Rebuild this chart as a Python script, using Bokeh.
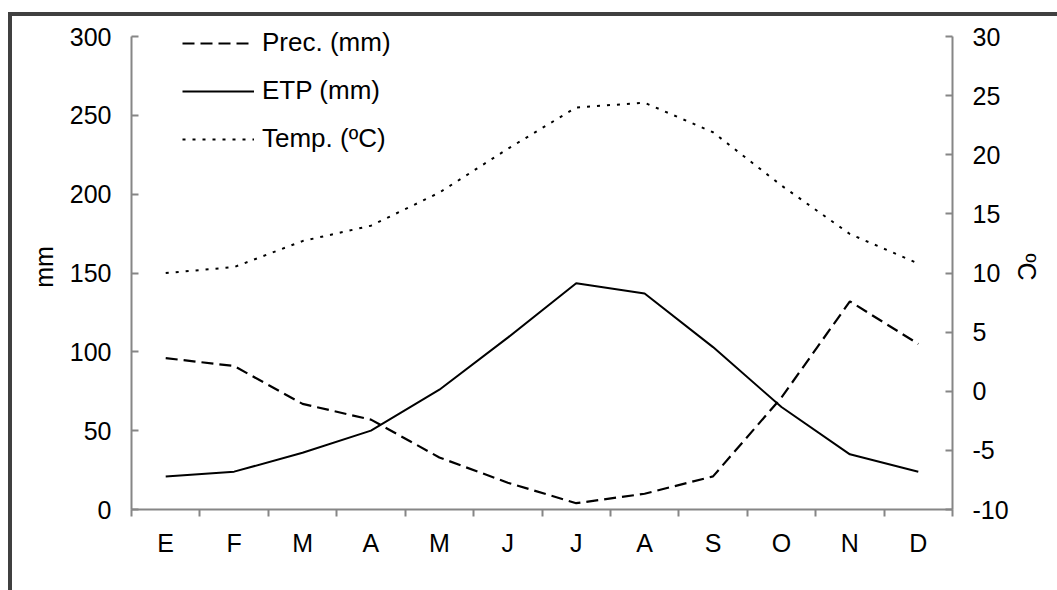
from bokeh.plotting import figure
from bokeh.models import Range1d, LinearAxis, FixedTicker, Legend, LegendItem
from bokeh.embed import file_html
from bokeh.resources import INLINE

months = ["E", "F", "M", "A", "M", "J", "J", "A", "S", "O", "N", "D"]
prec = [96, 91, 67, 57, 33, 17, 4, 10, 21, 71, 132, 105]
etp = [21, 24, 36, 50, 76, 109, 143.5, 137, 103, 65, 35, 24]
temp = [10.0, 10.5, 12.7, 14.0, 16.8, 20.5, 24.0, 24.4, 21.9, 17.4, 13.3, 10.8]
mm_ticks = [0, 50, 100, 150, 200, 250, 300]
c_ticks = [-10, -5, 0, 5, 10, 15, 20, 25, 30]

FONT = "Liberation Sans"
FS = "25px"
AX = "#868686"

AXIS_H = 473   # pixel height of the axes
EXT = 12       # extra frame room above the axes (for the legend)

xs = [i + 0.5 for i in range(len(months))]
mm_top = mm_ticks[-1] + EXT * (mm_ticks[-1] - mm_ticks[0]) / AXIS_H
c_top = c_ticks[-1] + EXT * (c_ticks[-1] - c_ticks[0]) / AXIS_H

p = figure(frame_width=821, frame_height=AXIS_H + EXT, output_backend="svg", toolbar_location=None,
           x_range=Range1d(0, len(months)), y_range=Range1d(mm_ticks[0], mm_top),
           min_border_left=119, min_border_top=20 - EXT, min_border_right=105, min_border_bottom=81)
p.styles = {"border-left": "4px solid #404040", "border-top": "4px solid #404040",
            "margin-left": "8px", "margin-top": "12px"}
p.extra_y_ranges = {"temp": Range1d(c_ticks[0], c_top)}
p.xgrid.visible = False
p.ygrid.visible = False
p.outline_line_color = None
p.background_fill_color = "white"
p.border_fill_color = "white"

# x axis
xa = p.xaxis[0]
xa.ticker = FixedTicker(ticks=xs, minor_ticks=list(range(len(months) + 1)))
xa.major_label_overrides = {x: m for x, m in zip(xs, months)}
xa.major_tick_in = 0
xa.major_tick_out = 0
xa.minor_tick_in = 0
xa.minor_tick_out = 7
xa.minor_tick_line_color = AX
xa.minor_tick_line_width = 2
xa.major_label_standoff = 12

# left axis
ya = p.yaxis[0]
ya.ticker = FixedTicker(ticks=mm_ticks)
ya.bounds = (mm_ticks[0], mm_ticks[-1])
ya.axis_label = "mm"
ya.major_tick_in = 7
ya.major_tick_out = 0
ya.minor_tick_line_color = None
ya.major_label_standoff = 20
ya.axis_label_standoff = 9

# right axis
ra = LinearAxis(y_range_name="temp", ticker=FixedTicker(ticks=c_ticks), axis_label="ºC",
                bounds=(c_ticks[0], c_ticks[-1]))
ra.major_label_overrides = {t: str(t) for t in c_ticks}
ra.major_tick_in = 7
ra.major_tick_out = 0
ra.minor_tick_line_color = None
ra.major_label_standoff = 20
ra.axis_label_standoff = 1
p.add_layout(ra, "right")

for ax in [xa, ya, ra]:
    ax.axis_line_color = AX
    ax.axis_line_width = 2
    ax.major_tick_line_color = AX
    ax.major_tick_line_width = 2
    ax.major_label_text_font = FONT
    ax.major_label_text_font_size = FS
    ax.major_label_text_color = "black"
    ax.axis_label_text_font = FONT
    ax.axis_label_text_font_size = FS
    ax.axis_label_text_font_style = "normal"
    ax.axis_label_text_color = "black"

r_prec = p.line(xs, prec, line_color="black", line_width=2.2, line_dash="12 6")
r_etp = p.line(xs, etp, line_color="black", line_width=2)
r_temp = p.line(xs, temp, y_range_name="temp", line_color="black", line_width=2, line_dash="3 7")

legend = Legend(items=[LegendItem(label="Prec. (mm)", renderers=[r_prec]),
                       LegendItem(label="ETP (mm)", renderers=[r_etp]),
                       LegendItem(label="Temp. (ºC)", renderers=[r_temp])],
                location=(51, 355), glyph_width=72, glyph_height=14, label_height=14,
                spacing=17, padding=0, margin=0, label_standoff=8,
                border_line_color=None, background_fill_alpha=0,
                label_text_font=FONT, label_text_font_size="26px", label_text_color="black")
p.add_layout(legend, "center")

open("out.html", "w").write(file_html(p, INLINE))
